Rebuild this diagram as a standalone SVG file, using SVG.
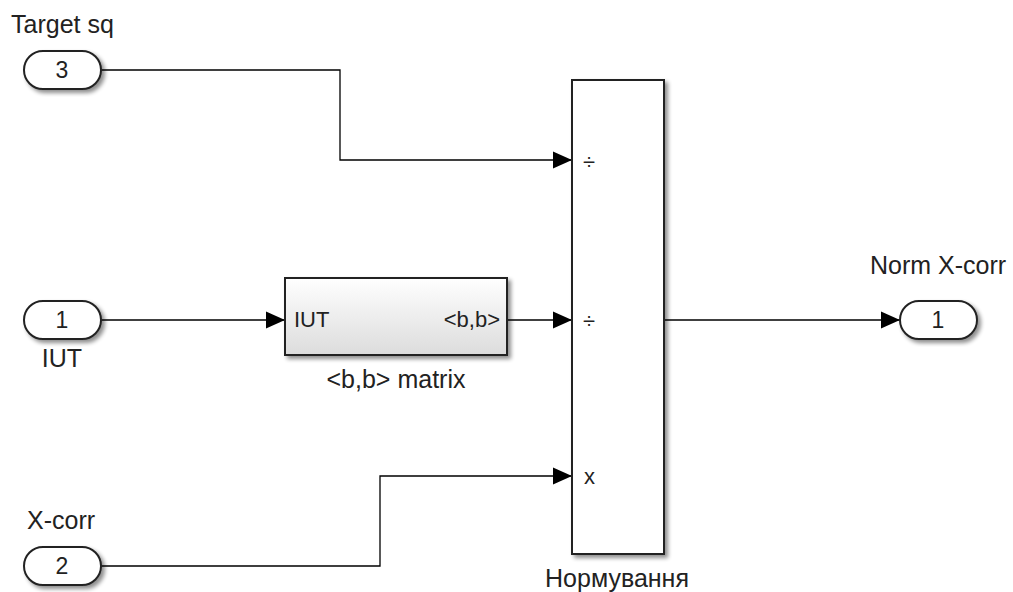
<svg xmlns="http://www.w3.org/2000/svg" width="1013" height="592" viewBox="0 0 1013 592">
<defs>
<filter id="sh" x="-20%" y="-20%" width="140%" height="140%">
<feGaussianBlur in="SourceAlpha" stdDeviation="2"/>
<feOffset dx="3" dy="3" result="b"/>
<feComponentTransfer><feFuncA type="linear" slope="0.45"/></feComponentTransfer>
<feMerge><feMergeNode/><feMergeNode in="SourceGraphic"/></feMerge>
</filter>
<linearGradient id="g" x1="0" y1="0" x2="0" y2="1">
<stop offset="0" stop-color="#ffffff"/>
<stop offset="1" stop-color="#dcdcdc"/>
</linearGradient>
<marker id="arr" markerWidth="20" markerHeight="18" viewBox="0 0 20 18" refX="19" refY="9" orient="auto" markerUnits="userSpaceOnUse">
<path d="M0,0.5 L19,9 L0,17.5 Z" fill="#000"/>
</marker>
</defs>
<style>
text{font-family:"Liberation Sans",Arial,sans-serif;fill:#222;}
.lbl{font-size:25px;}
.port{fill:#fff;stroke:#222;stroke-width:2;filter:url(#sh);}
.blk{stroke:#222;stroke-width:2;filter:url(#sh);}
.num{font-size:23px;text-anchor:middle;}
.in{font-size:22px;}
.w{fill:none;stroke:#000;stroke-width:1.3;marker-end:url(#arr);}
</style>
<rect width="1013" height="592" fill="#fff"/>
<g id="connectors">
<polyline class="w" points="101,70 340,70 340,160 572,160"/>
<polyline class="w" points="101,320 285,320"/>
<polyline class="w" points="507,320 572,320"/>
<polyline class="w" points="101,566 380,566 380,476 572,476"/>
<polyline class="w" points="664,320 900,320"/>
</g>
<g id="in3">
<rect class="port" x="24" y="51" width="77" height="38" rx="19"/>
<text class="num" x="62" y="78">3</text>
<text class="lbl" x="11" y="33">Target sq</text>
</g>
<g id="in1">
<rect class="port" x="24" y="301" width="77" height="38" rx="19"/>
<text class="num" x="62" y="328">1</text>
<text class="lbl" x="62" y="367" text-anchor="middle">IUT</text>
</g>
<g id="in2">
<rect class="port" x="24" y="547" width="77" height="38" rx="19"/>
<text class="num" x="62" y="574">2</text>
<text class="lbl" x="27" y="529">X-corr</text>
</g>
<g id="matrix">
<rect class="blk" x="285" y="278" width="222" height="77" fill="url(#g)"/>
<text class="in" x="294" y="327">IUT</text>
<text class="in" x="500" y="327" text-anchor="end">&lt;b,b&gt;</text>
<text class="lbl" x="396" y="388" text-anchor="middle">&lt;b,b&gt; matrix</text>
</g>
<g id="product">
<rect class="blk" x="572" y="80" width="92" height="474" fill="#fff"/>
<text class="in" x="583" y="169">÷</text>
<text class="in" x="583" y="328">÷</text>
<text class="in" x="584" y="484">x</text>
<text class="lbl" x="617" y="587" text-anchor="middle">Нормування</text>
</g>
<g id="out1">
<rect class="port" x="900" y="301" width="77" height="38" rx="19"/>
<text class="num" x="938" y="328">1</text>
<text class="lbl" x="938" y="274" text-anchor="middle">Norm X-corr</text>
</g>
</svg>
